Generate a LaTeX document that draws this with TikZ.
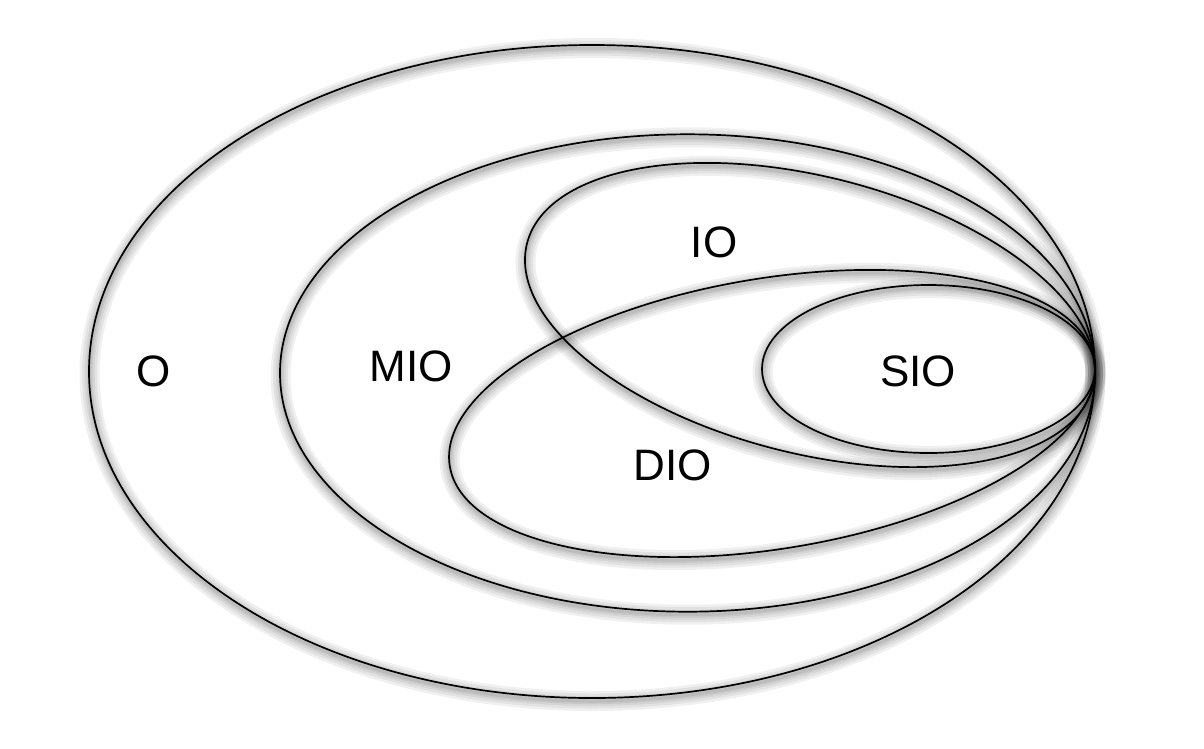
\documentclass[tikz,border=0pt]{standalone}
\usepackage{fontspec}
\setmainfont{Liberation Sans}
\newcommand\allshapes[1]{%
  \draw[#1] (592,371.5) ellipse [x radius=503pt, y radius=326.5pt];
  \draw[#1] (687.5,373) ellipse [x radius=407.5pt, y radius=238.7pt];
  \draw[#1,rotate around={-14.2:(810,315)}] (810,315) ellipse [x radius=291.9pt, y radius=138.4pt];
  \draw[#1,rotate around={9.3:(772,413.5)}] (772,413.5) ellipse [x radius=326.5pt, y radius=135.3pt];
  \draw[#1] (928.5,369) ellipse [x radius=166.5pt, y radius=84pt];
}
\begin{document}
\begin{tikzpicture}[x=1pt,y=-1pt,
  outline/.style={draw=black, line width=1.7pt},
  glow/.style={draw=black, line width=#1, opacity=0.06, shift={(0.5,3)}},
  lbl/.style={font=\fontsize{44}{44}\selectfont, inner sep=0pt, anchor=center}]
\useasboundingbox (0,0) rectangle (1204,748);
\allshapes{glow=20pt}
\allshapes{glow=15pt}
\allshapes{glow=10pt}
\allshapes{glow=6pt}
\allshapes{glow=3pt}
\allshapes{outline}
\node[lbl] (o) at (154,371) {O};
\node[lbl] (mio) at (411.5,366) {MIO};
\node[lbl] (io) at (714,242) {IO};
\node[lbl] (dio) at (673,465) {DIO};
\node[lbl] (sio) at (918,371) {SIO};
\end{tikzpicture}
\end{document}
